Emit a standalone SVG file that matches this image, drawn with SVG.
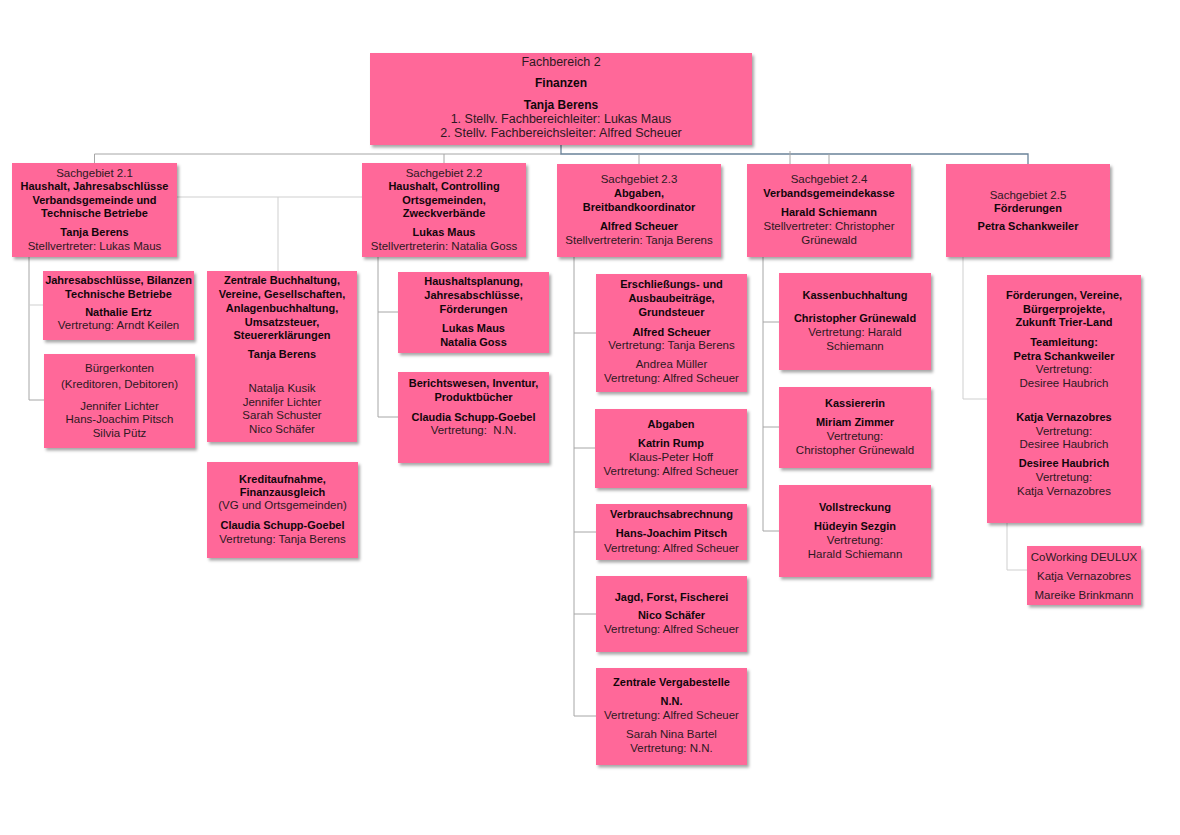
<svg xmlns="http://www.w3.org/2000/svg" width="1180" height="835" viewBox="0 0 1180 835">
<defs>
<filter id="sh" x="-10%" y="-10%" width="125%" height="130%">
<feDropShadow dx="2" dy="2.5" stdDeviation="1.6" flood-color="#000" flood-opacity="0.35"/>
</filter>
</defs>
<style>
.bx{fill:#ff6799;filter:url(#sh)}
text{font-family:"Liberation Sans",Arial,sans-serif;text-anchor:middle}
.r{font-size:11.5px;fill:#2e1822}
.t{font-size:11px;font-weight:bold;fill:#12060b}
.R{font-size:12.5px;fill:#2e1822}
.T{font-size:12px;font-weight:bold;fill:#12060b}
.c{fill:none;stroke:#a6a6a6;stroke-width:1}
.l{fill:none;stroke:#cfcfcf;stroke-width:1}
.m{fill:none;stroke:#6a8299;stroke-width:1.3}
</style>
<rect width="1180" height="835" fill="#fff"/>
<g id="connectors">
<path class="c" d="M94.5 154 H561"/>
<path class="m" d="M561 145 V154 H1028 V164"/>
<path class="c" d="M94.5 154 V163 M444 154 V163 M639 154 V164 M790 151 V164 M829 154 V164"/>
<path class="c" d="M29 257 V400 H44"/>
<path class="l" d="M29 305 H43"/>
<path class="l" d="M177 197 H362 M278 197 V271"/>
<path class="c" d="M378 257 V417 H398 M378 312 H398"/>
<path class="c" d="M574 257 V716 H596 M574 333 H596 M574 448 H595 M574 532 H596 M574 614 H596"/>
<path class="c" d="M763 257 V531 H779 M763 322 H779 M763 427 H779"/>
<path class="l" d="M963 257 V399 H987 M1007 523 V570 H1027"/>
</g>
<g id="fb2">
<rect class="bx" x="370" y="53" width="382" height="92"/>
<text class="R" x="561" y="66">Fachbereich 2</text>
<text class="T" x="561" y="87">Finanzen</text>
<text class="T" x="561" y="109">Tanja Berens</text>
<text class="R" x="561" y="123">1. Stellv. Fachbereichleiter: Lukas Maus</text>
<text class="R" x="561" y="137">2. Stellv. Fachbereichsleiter: Alfred Scheuer</text>
</g>
<g id="sg21">
<rect class="bx" x="12" y="163" width="165" height="94"/>
<text class="r" x="94.5" y="177">Sachgebiet 2.1</text>
<text class="t" x="94.5" y="190">Haushalt, Jahresabschlüsse</text>
<text class="t" x="94.5" y="204">Verbandsgemeinde und</text>
<text class="t" x="94.5" y="217">Technische Betriebe</text>
<text class="t" x="94.5" y="236">Tanja Berens</text>
<text class="r" x="94.5" y="250">Stellvertreter: Lukas Maus</text>
</g>
<g id="jahresabschluesse">
<rect class="bx" x="43" y="271" width="151" height="69"/>
<text class="t" x="118.5" y="284">Jahresabschlüsse, Bilanzen</text>
<text class="t" x="118.5" y="298">Technische Betriebe</text>
<text class="t" x="118.5" y="316">Nathalie Ertz</text>
<text class="r" x="118.5" y="329">Vertretung: Arndt Keilen</text>
</g>
<g id="buergerkonten">
<rect class="bx" x="44" y="354" width="151" height="94"/>
<text class="r" x="119.5" y="372">Bürgerkonten</text>
<text class="r" x="119.5" y="388">(Kreditoren, Debitoren)</text>
<text class="r" x="119.5" y="410">Jennifer Lichter</text>
<text class="r" x="119.5" y="423">Hans-Joachim Pitsch</text>
<text class="r" x="119.5" y="437">Silvia Pütz</text>
</g>
<g id="zentralebuchhaltung">
<rect class="bx" x="207" y="271" width="150" height="171"/>
<text class="t" x="282" y="284">Zentrale Buchhaltung,</text>
<text class="t" x="282" y="298">Vereine, Gesellschaften,</text>
<text class="t" x="282" y="312">Anlagenbuchhaltung,</text>
<text class="t" x="282" y="326">Umsatzsteuer,</text>
<text class="t" x="282" y="339">Steuererklärungen</text>
<text class="t" x="282" y="358">Tanja Berens</text>
<text class="r" x="282" y="392">Natalja Kusik</text>
<text class="r" x="282" y="406">Jennifer Lichter</text>
<text class="r" x="282" y="419">Sarah Schuster</text>
<text class="r" x="282" y="433">Nico Schäfer</text>
</g>
<g id="kreditaufnahme">
<rect class="bx" x="207" y="462" width="151" height="96"/>
<text class="t" x="282.5" y="483">Kreditaufnahme,</text>
<text class="t" x="282.5" y="496">Finanzausgleich</text>
<text class="r" x="282.5" y="509">(VG und Ortsgemeinden)</text>
<text class="t" x="282.5" y="529">Claudia Schupp-Goebel</text>
<text class="r" x="282.5" y="543">Vertretung: Tanja Berens</text>
</g>
<g id="sg22">
<rect class="bx" x="362" y="163" width="164" height="94"/>
<text class="r" x="444" y="177">Sachgebiet 2.2</text>
<text class="t" x="444" y="190">Haushalt, Controlling</text>
<text class="t" x="444" y="204">Ortsgemeinden,</text>
<text class="t" x="444" y="217">Zweckverbände</text>
<text class="t" x="444" y="236">Lukas Maus</text>
<text class="r" x="444" y="250">Stellvertreterin: Natalia Goss</text>
</g>
<g id="haushaltsplanung">
<rect class="bx" x="398" y="272" width="151" height="81"/>
<text class="t" x="473.5" y="285">Haushaltsplanung,</text>
<text class="t" x="473.5" y="299">Jahresabschlüsse,</text>
<text class="t" x="473.5" y="313">Förderungen</text>
<text class="t" x="473.5" y="332">Lukas Maus</text>
<text class="t" x="473.5" y="346">Natalia Goss</text>
</g>
<g id="berichtswesen">
<rect class="bx" x="398" y="372" width="151" height="91"/>
<text class="t" x="473.5" y="387">Berichtswesen, Inventur,</text>
<text class="t" x="473.5" y="401">Produktbücher</text>
<text class="t" x="473.5" y="421">Claudia Schupp-Goebel</text>
<text class="r" x="473.5" y="434" style="white-space:pre">Vertretung:  N.N.</text>
</g>
<g id="sg23">
<rect class="bx" x="557" y="164" width="164" height="93"/>
<text class="r" x="639" y="183">Sachgebiet 2.3</text>
<text class="t" x="639" y="197">Abgaben,</text>
<text class="t" x="639" y="211">Breitbandkoordinator</text>
<text class="t" x="639" y="230">Alfred Scheuer</text>
<text class="r" x="639" y="244">Stellvertreterin: Tanja Berens</text>
</g>
<g id="erschliessung">
<rect class="bx" x="596" y="274" width="151" height="118"/>
<text class="t" x="671.5" y="288">Erschließungs- und</text>
<text class="t" x="671.5" y="302">Ausbaubeiträge,</text>
<text class="t" x="671.5" y="316">Grundsteuer</text>
<text class="t" x="671.5" y="336">Alfred Scheuer</text>
<text class="r" x="671.5" y="349">Vertretung: Tanja Berens</text>
<text class="r" x="671.5" y="368">Andrea Müller</text>
<text class="r" x="671.5" y="382">Vertretung: Alfred Scheuer</text>
</g>
<g id="abgaben">
<rect class="bx" x="595" y="409" width="152" height="79"/>
<text class="t" x="671" y="428">Abgaben</text>
<text class="t" x="671" y="447">Katrin Rump</text>
<text class="r" x="671" y="461">Klaus-Peter Hoff</text>
<text class="r" x="671" y="475">Vertretung: Alfred Scheuer</text>
</g>
<g id="verbrauch">
<rect class="bx" x="596" y="504" width="151" height="56"/>
<text class="t" x="671.5" y="518">Verbrauchsabrechnung</text>
<text class="t" x="671.5" y="537">Hans-Joachim Pitsch</text>
<text class="r" x="671.5" y="552">Vertretung: Alfred Scheuer</text>
</g>
<g id="jagd">
<rect class="bx" x="596" y="576" width="151" height="76"/>
<text class="t" x="671.5" y="601">Jagd, Forst, Fischerei</text>
<text class="t" x="671.5" y="619">Nico Schäfer</text>
<text class="r" x="671.5" y="633">Vertretung: Alfred Scheuer</text>
</g>
<g id="vergabestelle">
<rect class="bx" x="596" y="668" width="151" height="97"/>
<text class="t" x="671.5" y="686">Zentrale Vergabestelle</text>
<text class="t" x="671.5" y="705">N.N.</text>
<text class="r" x="671.5" y="719">Vertretung: Alfred Scheuer</text>
<text class="r" x="671.5" y="738">Sarah Nina Bartel</text>
<text class="r" x="671.5" y="752">Vertretung: N.N.</text>
</g>
<g id="sg24">
<rect class="bx" x="747" y="164" width="164" height="93"/>
<text class="r" x="829" y="183">Sachgebiet 2.4</text>
<text class="t" x="829" y="197">Verbandsgemeindekasse</text>
<text class="t" x="829" y="216">Harald Schiemann</text>
<text class="r" x="829" y="230">Stellvertreter: Christopher</text>
<text class="r" x="829" y="244">Grünewald</text>
</g>
<g id="kassenbuchhaltung">
<rect class="bx" x="779" y="273" width="152" height="97"/>
<text class="t" x="855" y="299">Kassenbuchhaltung</text>
<text class="t" x="855" y="322">Christopher Grünewald</text>
<text class="r" x="855" y="336">Vertretung: Harald</text>
<text class="r" x="855" y="350">Schiemann</text>
</g>
<g id="kassiererin">
<rect class="bx" x="779" y="387" width="152" height="81"/>
<text class="t" x="855" y="407">Kassiererin</text>
<text class="t" x="855" y="426">Miriam Zimmer</text>
<text class="r" x="855" y="440">Vertretung:</text>
<text class="r" x="855" y="454">Christopher Grünewald</text>
</g>
<g id="vollstreckung">
<rect class="bx" x="779" y="485" width="152" height="92"/>
<text class="t" x="855" y="511">Vollstreckung</text>
<text class="t" x="855" y="530">Hüdeyin Sezgin</text>
<text class="r" x="855" y="544">Vertretung:</text>
<text class="r" x="855" y="558">Harald Schiemann</text>
</g>
<g id="sg25">
<rect class="bx" x="946" y="164" width="164" height="93"/>
<text class="r" x="1028" y="199">Sachgebiet 2.5</text>
<text class="t" x="1028" y="212">Förderungen</text>
<text class="t" x="1028" y="230">Petra Schankweiler</text>
</g>
<g id="foerderungen">
<rect class="bx" x="987" y="275" width="154" height="248"/>
<text class="t" x="1064" y="299">Förderungen, Vereine,</text>
<text class="t" x="1064" y="313">Bürgerprojekte,</text>
<text class="t" x="1064" y="326">Zukunft Trier-Land</text>
<text class="t" x="1064" y="346">Teamleitung:</text>
<text class="t" x="1064" y="360">Petra Schankweiler</text>
<text class="r" x="1064" y="373">Vertretung:</text>
<text class="r" x="1064" y="387">Desiree Haubrich</text>
<text class="t" x="1064" y="421">Katja Vernazobres</text>
<text class="r" x="1064" y="435">Vertretung:</text>
<text class="r" x="1064" y="448">Desiree Haubrich</text>
<text class="t" x="1064" y="467">Desiree Haubrich</text>
<text class="r" x="1064" y="481">Vertretung:</text>
<text class="r" x="1064" y="495">Katja Vernazobres</text>
</g>
<g id="coworking">
<rect class="bx" x="1027" y="546" width="114" height="59"/>
<text class="r" x="1084" y="561">CoWorking DEULUX</text>
<text class="r" x="1084" y="580">Katja Vernazobres</text>
<text class="r" x="1084" y="599">Mareike Brinkmann</text>
</g>
</svg>
